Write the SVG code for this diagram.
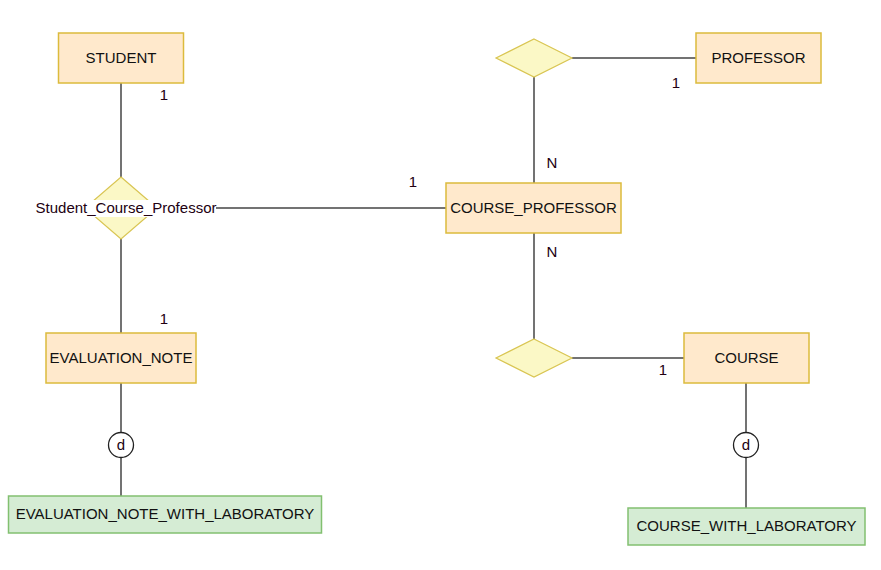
<svg xmlns="http://www.w3.org/2000/svg" width="881" height="570" viewBox="0 0 881 570">
<style>
.ent{fill:#ffe9cc;stroke:#dcbb3c;stroke-width:1.5}
.sub{fill:#d5ecd4;stroke:#82c070;stroke-width:1.5}
.rel{fill:#fbf8c6;stroke:#d9c552;stroke-width:1.2}
.ln{stroke:#444;stroke-width:1.5;fill:none}
.t{font-family:"Liberation Sans",Arial,sans-serif;font-size:15px;fill:#111;text-anchor:middle}
.lb{font-family:"Liberation Sans",Arial,sans-serif;font-size:15px;fill:#220011;text-anchor:middle}
.circ{fill:#fff;stroke:#222;stroke-width:1.3}
</style>
<rect width="881" height="570" fill="#fff"/>
<g id="connectors">
<line class="ln" x1="121" y1="83" x2="121" y2="177"/>
<line class="ln" x1="121" y1="239" x2="121" y2="333"/>
<line class="ln" x1="216" y1="208" x2="446" y2="208"/>
<line class="ln" x1="572" y1="58" x2="696" y2="58"/>
<line class="ln" x1="534" y1="77" x2="534" y2="183"/>
<line class="ln" x1="534" y1="233" x2="534" y2="339"/>
<line class="ln" x1="572" y1="358" x2="684" y2="358"/>
<line class="ln" x1="121" y1="383" x2="121" y2="432"/>
<line class="ln" x1="121" y1="458" x2="121" y2="496"/>
<line class="ln" x1="746" y1="383" x2="746" y2="432"/>
<line class="ln" x1="746" y1="458" x2="746" y2="508"/>
<text class="lb" x="164" y="100">1</text>
<text class="lb" x="164" y="324">1</text>
<text class="lb" x="413" y="187">1</text>
<text class="lb" x="676" y="88">1</text>
<text class="lb" x="663" y="375">1</text>
<text class="lb" x="552" y="168">N</text>
<text class="lb" x="552" y="257">N</text>
</g>
<g id="student"><rect class="ent" x="58.5" y="33" width="125" height="50"/><text class="t" x="121" y="63">STUDENT</text></g>
<g id="professor"><rect class="ent" x="696" y="33" width="125" height="50"/><text class="t" x="758.5" y="63">PROFESSOR</text></g>
<g id="course_professor"><rect class="ent" x="446" y="183" width="175" height="50"/><text class="t" x="533.5" y="213">COURSE_PROFESSOR</text></g>
<g id="course"><rect class="ent" x="684" y="333" width="125" height="50"/><text class="t" x="746.5" y="363">COURSE</text></g>
<g id="evaluation_note"><rect class="ent" x="46" y="333" width="150" height="50"/><text class="t" x="121" y="363">EVALUATION_NOTE</text></g>
<g id="evaluation_note_with_laboratory"><rect class="sub" x="8.5" y="496" width="313" height="37"/><text class="t" x="165" y="519">EVALUATION_NOTE_WITH_LABORATORY</text></g>
<g id="course_with_laboratory"><rect class="sub" x="628" y="508" width="237" height="37"/><text class="t" x="746.5" y="531">COURSE_WITH_LABORATORY</text></g>
<g id="rel_student_course_professor"><polygon class="rel" points="121,177 157,208 121,239 85,208"/><rect x="36" y="200" width="180" height="17" fill="#fff"/><text class="lb" x="126" y="213">Student_Course_Professor</text></g>
<g id="rel_professor"><polygon class="rel" points="534,39 572,58 534,77 496,58"/></g>
<g id="rel_course"><polygon class="rel" points="534,339 572,358 534,377 496,358"/></g>
<g id="d_evaluation"><circle class="circ" cx="121" cy="445" r="12.5"/><text class="lb" x="121" y="450">d</text></g>
<g id="d_course"><circle class="circ" cx="746" cy="445" r="12.5"/><text class="lb" x="746" y="450">d</text></g>
</svg>
